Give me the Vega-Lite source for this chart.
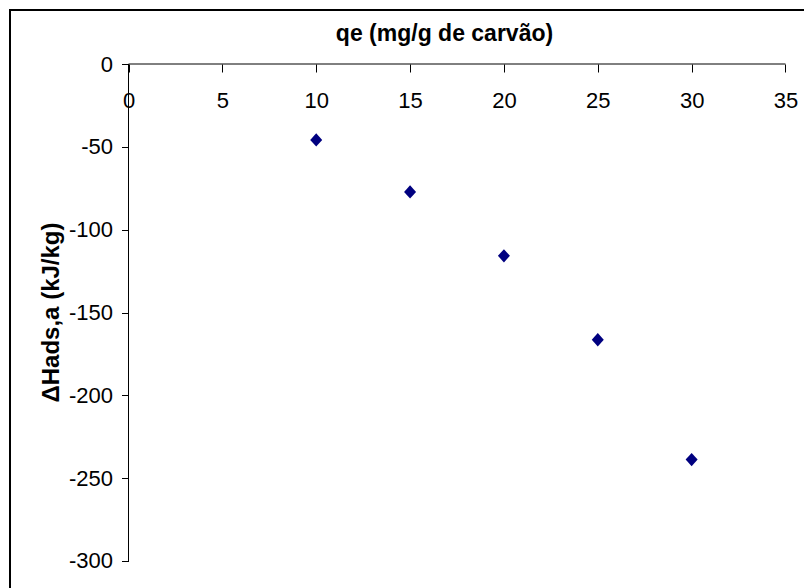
{
  "$schema": "https://vega.github.io/schema/vega-lite/v6.json",
  "width": 800,
  "height": 584,
  "autosize": "none",
  "padding": {"left": 10, "top": 10, "right": 0, "bottom": 0},
  "background": "white",
  "config": {
    "view": {"stroke": "#000000", "strokeWidth": 2},
    "font": "Liberation Sans"
  },
  "layer": [
    {
      "data": {"values": [{}]},
      "mark": {"type": "rule", "color": "#000000", "strokeWidth": 1},
      "encoding": {
        "x": {"datum": 0, "type": "quantitative"},
        "x2": {"datum": 35},
        "y": {"datum": 0, "type": "quantitative"}
      }
    },
    {
      "data": {"values": [{}]},
      "mark": {"type": "rule", "color": "#000000", "strokeWidth": 1},
      "encoding": {
        "x": {"datum": 0, "type": "quantitative"},
        "y": {"datum": 0, "type": "quantitative"},
        "y2": {"datum": -300}
      }
    },
    {
      "data": {
        "values": [
          {"qe": 10, "dH": -45.8},
          {"qe": 15, "dH": -77.2},
          {"qe": 20, "dH": -115.8},
          {"qe": 25, "dH": -166.4},
          {"qe": 30, "dH": -238.8}
        ]
      },
      "mark": {
        "type": "point",
        "shape": "M-1,0L0,-1.12L1,0L0,1.12Z",
        "filled": true,
        "color": "#000080",
        "opacity": 1,
        "size": 144
      },
      "encoding": {
        "x": {
          "field": "qe",
          "type": "quantitative",
          "scale": {"domain": [-6.313, 36.306], "nice": false, "zero": false},
          "axis": {
            "orient": "bottom",
            "offset": -530,
            "values": [0, 5, 10, 15, 20, 25, 30, 35],
            "labelExpr": "'' + datum.value",
            "domain": false,
            "grid": false,
            "tickSize": 8,
            "tickColor": "#000000",
            "tickWidth": 1,
            "labelFont": "Liberation Sans",
            "labelFontSize": 22,
            "labelColor": "#000000",
            "labelPadding": 18,
            "labelFlush": false,
            "labelOverlap": false,
            "title": "qe (mg/g de carvão)",
            "titleFont": "Liberation Sans",
            "titleFontWeight": "bold",
            "titleFontSize": 23,
            "titleColor": "#000000",
            "titleX": 434,
            "titleY": -31,
            "titleAlign": "center",
            "titleBaseline": "middle"
          }
        },
        "y": {
          "field": "dH",
          "type": "quantitative",
          "scale": {"domain": [-319.92, 32.6], "nice": false, "zero": false},
          "axis": {
            "orient": "left",
            "offset": -118.5,
            "values": [0, -50, -100, -150, -200, -250, -300],
            "labelExpr": "'' + datum.value",
            "domain": false,
            "grid": false,
            "tickSize": 7,
            "tickColor": "#000000",
            "tickWidth": 1,
            "labelFont": "Liberation Sans",
            "labelFontSize": 22,
            "labelColor": "#000000",
            "labelPadding": 9,
            "labelFlush": false,
            "labelOverlap": false,
            "title": "ΔHads,a (kJ/kg)",
            "titleFont": "Liberation Sans",
            "titleFontWeight": "bold",
            "titleFontSize": 24,
            "titleColor": "#000000",
            "titleAngle": -90,
            "titleX": -77,
            "titleY": 302,
            "titleAlign": "center",
            "titleBaseline": "middle"
          }
        }
      }
    }
  ]
}
